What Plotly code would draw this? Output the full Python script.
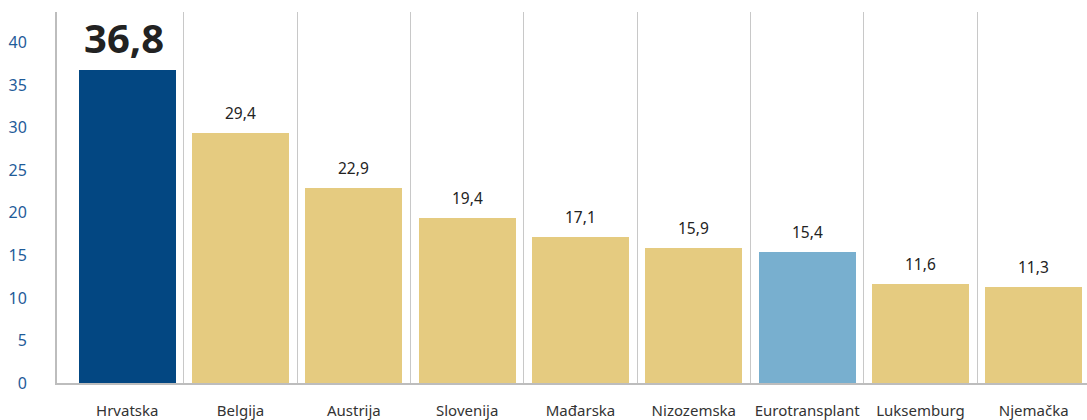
import plotly.graph_objects as go

categories = ["Hrvatska", "Belgija", "Austrija", "Slovenija", "Mađarska",
              "Nizozemska", "Eurotransplant", "Luksemburg", "Njemačka"]
values = [36.8, 29.4, 22.9, 19.4, 17.1, 15.9, 15.4, 11.6, 11.3]
value_labels = ["36,8", "29,4", "22,9", "19,4", "17,1", "15,9", "15,4", "11,6", "11,3"]
bar_colors = ["#034782", "#e5cb80", "#e5cb80", "#e5cb80", "#e5cb80",
              "#e5cb80", "#78afcf", "#e5cb80", "#e5cb80"]
y_ticks = [0, 5, 10, 15, 20, 25, 30, 35, 40]

FONT = "Noto Sans"
xs = list(range(len(categories)))

fig = go.Figure()
fig.add_trace(go.Bar(
    x=xs, y=values, marker=dict(color=bar_colors, line=dict(width=0)),
    width=0.855, hoverinfo="skip",
))

for i, (v, t) in enumerate(zip(values, value_labels)):
    big = i == 0
    fig.add_annotation(
        x=i, y=v, xref="x", yref="y", text=f"<b>{t}</b>" if big else t,
        showarrow=False, yanchor="bottom", yshift=3 if big else 7,
        xshift=-3 if big else 0,
        font=dict(family=FONT, size=40 if big else 15.5, color="#222222"),
    )

fig.update_layout(
    width=1087, height=420,
    margin=dict(l=57, r=0, t=12, b=37),
    paper_bgcolor="white", plot_bgcolor="white",
    showlegend=False, bargap=0,
    xaxis=dict(
        range=[-0.62, 8.47], tickvals=xs, ticktext=categories,
        showgrid=False, zeroline=False, showline=True, linecolor="#bdbdbd", linewidth=2,
        ticks="", tickfont=dict(family=FONT, size=15, color="#333333"),
        ticklabelstandoff=13, automargin=False,
        minor=dict(tickvals=[i + 0.5 for i in xs[:-1]], showgrid=True,
                   gridcolor="#c8c8c8", gridwidth=1, ticks=""),
        fixedrange=True,
    ),
    yaxis=dict(
        range=[0, 43.6], tickvals=y_ticks, showgrid=False, zeroline=False,
        showline=True, linecolor="#bdbdbd", linewidth=2, ticks="",
        tickfont=dict(family=FONT, size=16, color="#1f5c99"),
        ticklabelstandoff=25, automargin=False, fixedrange=True,
    ),
)

fig.write_html("out.html", config={"displayModeBar": False},
               post_script="document.body.style.margin='0';document.body.style.overflow='hidden';")
